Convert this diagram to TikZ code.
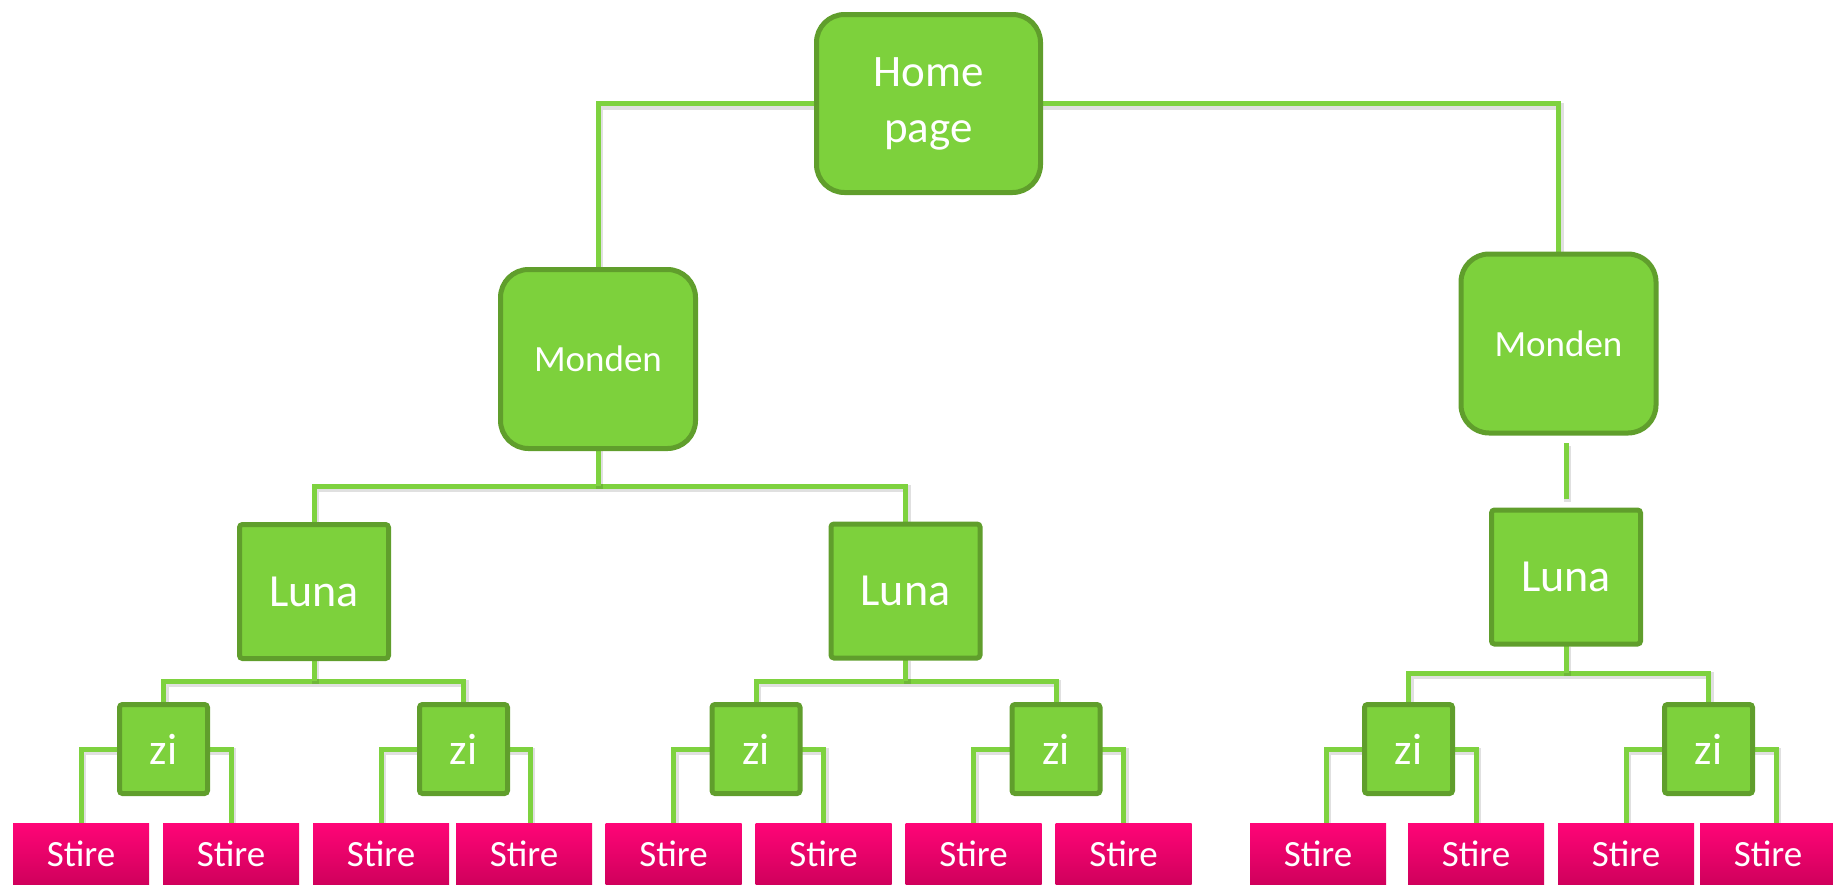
\documentclass[tikz,border=0pt]{standalone}
\usepackage{fontspec}
\setmainfont{Carlito}
\usetikzlibrary{calc}
\definecolor{leaf}{HTML}{7DD13C}
\definecolor{leafedge}{HTML}{609E2C}
\definecolor{linkgreen}{HTML}{7ED23F}
\definecolor{pinktop}{HTML}{FF0577}
\definecolor{pinkbot}{HTML}{D0005C}
\pgfdeclarelayer{bg}
\pgfsetlayers{bg,main}
\begin{document}
\begin{tikzpicture}[x=1pt,y=-1pt,
  greenbox/.style={draw=leafedge, fill=leaf, line width=5pt, text=white,
    inner sep=0pt, outer sep=0pt, align=center},
  roundbox/.style={greenbox, rounded corners=28pt},
  squarebox/.style={greenbox, rounded corners=3pt},
  homebox/.style={roundbox, minimum width=224pt, minimum height=178pt,
    font=\fontsize{45}{56}\selectfont},
  mondenbox/.style={roundbox, minimum width=195pt, minimum height=179pt,
    font=\fontsize{37}{44}\selectfont},
  lunabox/.style={squarebox, minimum width=149pt, minimum height=134pt,
    font=\fontsize{46}{54}\selectfont},
  zibox/.style={squarebox, minimum width=88pt, minimum height=89pt,
    font=\fontsize{44}{52}\selectfont},
  stirebox/.style={rectangle, top color=pinktop, bottom color=pinkbot,
    text=white, minimum width=136pt, minimum height=61pt, inner sep=0pt,
    outer sep=0pt, font=\fontsize{37}{44}\selectfont},
  link/.style={draw=linkgreen, line width=5pt,
    preaction={draw=black, opacity=0.12, line width=7pt,
      transform canvas={shift={(1.5pt,-2.5pt)}}}},
  ]
\useasboundingbox (0,0) rectangle (1833,887);

% main tree nodes
\node[homebox] (home) at (928.5,103.5) {Home\\page};
\node[mondenbox] (mL) at (598,359) {Monden};
\node[mondenbox] (mR) at (1558.5,343.5) {Monden};
\node[lunabox] (lA) at (314,591.5) {Luna};
\node[lunabox] (lB) at (905.5,591) {Luna};
\node[lunabox] (lC) at (1566,577) {Luna};

% day boxes
\foreach \n/\x in {1/163.5, 2/463.5, 3/756, 4/1056, 5/1408.5, 6/1708.5}
  \node[zibox] (z\n) at (\x,749) {zi};

% news items
\foreach \n/\x in {1/81, 2/231, 3/381, 4/524, 5/673.5, 6/823.5, 7/973.5,
                   8/1123.5, 9/1318, 10/1476, 11/1626, 12/1768}
  \node[stirebox] (s\n) at (\x,853.5) {Stire};

\begin{pgfonlayer}{bg}
  % home to the two Monden boxes
  \draw[link] (home.west) -| (mL.north);
  \draw[link] (home.east) -| (mR.north);

  % Monden to Luna (left)
  \draw[link] (lA.north) -- ++(0,-38.5) coordinate (busM) -| (lB.north);
  \draw[link] (mL.south) -- (mL.south |- busM);

  % Monden to Luna (right), a free segment between them
  \draw[link] ($(lC.north)+(0,-11)$) -- ($(lC.north)+(0,-67)$);

  % Luna to zi
  \draw[link] (z1.north) -- ++(0,-23.5) coordinate (b1) -| (z2.north);
  \draw[link] (lA.south) -- (lA.south |- b1);
  \draw[link] (z3.north) -- ++(0,-23.5) coordinate (b2) -| (z4.north);
  \draw[link] (lB.south) -- (lB.south |- b2);
  \draw[link] (z5.north) -- ++(0,-31.5) coordinate (b3) -| (z6.north);
  \draw[link] (lC.south) -- (lC.south |- b3);

  % zi to Stire
  \draw[link] (z1.west) -| (s1.north);
  \draw[link] (z1.east) -| (s2.north);
  \draw[link] (z2.west) -| (s3.north);
  \draw[link] (z2.east) -| ([xshift=6pt]s4.north);
  \draw[link] (z3.west) -| (s5.north);
  \draw[link] (z3.east) -| (s6.north);
  \draw[link] (z4.west) -| (s7.north);
  \draw[link] (z4.east) -| (s8.north);
  \draw[link] (z5.west) -| ([xshift=8pt]s9.north);
  \draw[link] (z5.east) -| (s10.north);
  \draw[link] (z6.west) -| (s11.north);
  \draw[link] (z6.east) -| ([xshift=8pt]s12.north);
\end{pgfonlayer}
\end{tikzpicture}
\end{document}
